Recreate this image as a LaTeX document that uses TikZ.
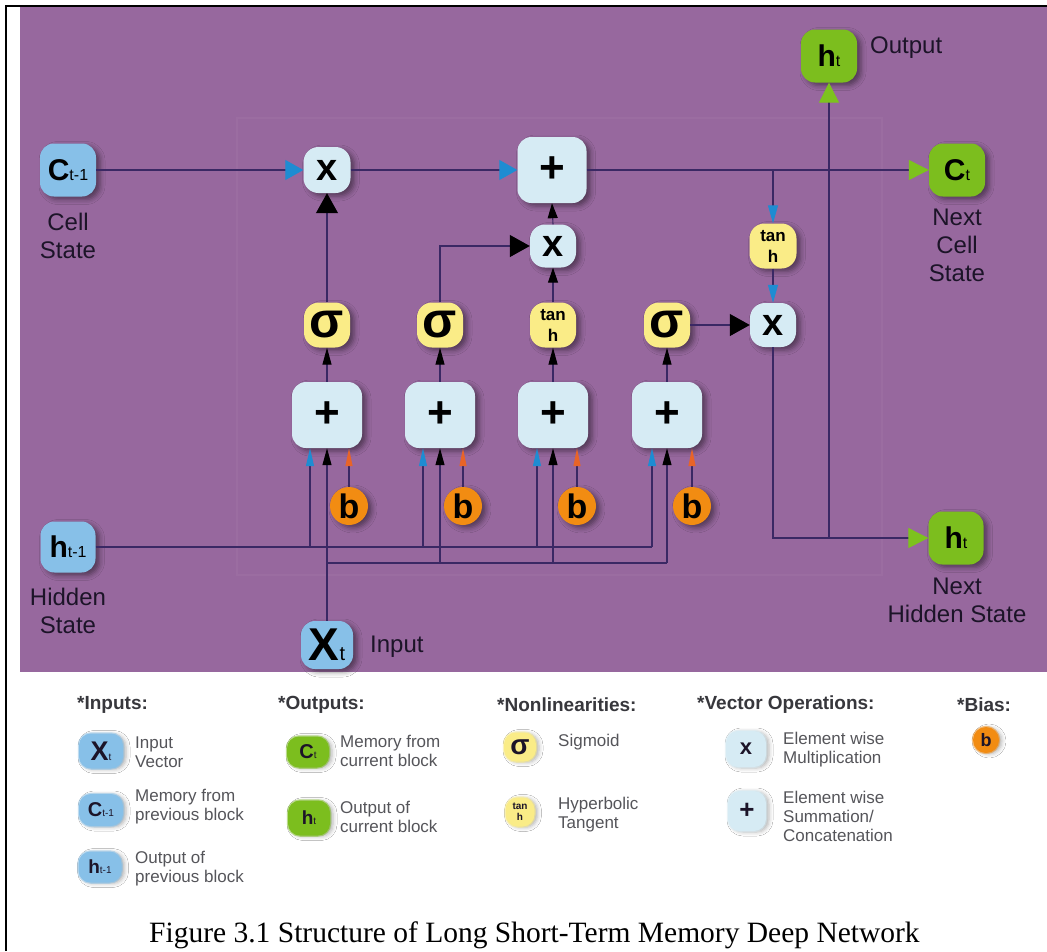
\documentclass[tikz,border=0pt]{standalone}
\usepackage{fontspec}
\setmainfont{Liberation Serif}
\setsansfont{Liberation Sans}
\usetikzlibrary{arrows.meta,shadows.blur,calc}

\definecolor{bgpurple}{RGB}{151,104,158}
\definecolor{wirecol}{RGB}{58,40,100}
\definecolor{opblue}{RGB}{214,235,244}
\definecolor{inblue}{RGB}{135,192,232}
\definecolor{outgreen}{RGB}{124,190,30}
\definecolor{gateyellow}{RGB}{250,236,135}
\definecolor{biasorange}{RGB}{242,140,18}
\definecolor{tipblue}{RGB}{30,140,210}
\definecolor{tiporange}{RGB}{232,100,40}
\definecolor{tipgreen}{RGB}{125,194,30}
\definecolor{ink}{RGB}{28,20,40}
\definecolor{headgray}{RGB}{55,55,60}
\definecolor{bodygray}{RGB}{85,85,90}

% symbols set inside the operation nodes
\newcommand{\opplus}{{\fontsize{44}{44}\selectfont +}}
\newcommand{\opmul}{{\fontsize{38}{38}\selectfont x}}
\newcommand{\opsig}{{\fontsize{50}{50}\selectfont σ}}
\newcommand{\opbias}{{\fontsize{34}{34}\selectfont b}}
\newcommand{\varlbl}[4]{{\fontsize{#1}{#1}\selectfont #2}{\mdseries\fontsize{#3}{#3}\selectfont #4}}

\tikzset{
  base/.style={inner sep=0pt, align=center, font=\sffamily\bfseries, text=black,
    blur shadow={shadow xshift=4pt, shadow yshift=-3pt, shadow blur radius=5pt, shadow opacity=45}},
  opbox/.style={base, fill=opblue, rounded corners=14pt, minimum width=70pt, minimum height=66pt},
  mulnode/.style={base, fill=opblue, rounded corners=15pt, minimum width=46pt, minimum height=44pt},
  gatenode/.style={base, fill=gateyellow, rounded corners=15pt, minimum width=46pt, minimum height=45pt},
  tanhnode/.style={gatenode, font=\sffamily\bfseries\fontsize{17}{21}\selectfont},
  biasnode/.style={base, circle, fill=biasorange, minimum size=38pt},
  innode/.style={base, fill=inblue, rounded corners=14pt, minimum width=56pt, minimum height=53pt},
  outnode/.style={base, fill=outgreen, rounded corners=14pt, minimum width=56pt, minimum height=53pt},
  lbl/.style={font=\sffamily\fontsize{24}{28}\selectfont, text=ink, align=center, inner sep=0pt},
  conn/.style={draw=wirecol, line width=1.1pt},
  bigblue/.tip={Triangle[length=18pt,width=20pt,color=tipblue]},
  midblue/.tip={Triangle[length=18pt,width=10pt,color=tipblue]},
  smallblue/.tip={Triangle[length=18pt,width=8pt,color=tipblue]},
  biggreen/.tip={Triangle[length=20pt,width=20pt,color=tipgreen]},
  bigblack/.tip={Triangle[length=20pt,width=22pt,color=black]},
  midblack/.tip={Triangle[length=15pt,width=10pt,color=black]},
  smallblack/.tip={Triangle[length=17pt,width=9pt,color=black]},
  smallorange/.tip={Triangle[length=18pt,width=7pt,color=tiporange]},
  legicon/.style={inner sep=0pt, align=center, font=\sffamily\bfseries, text=ink,
    rounded corners=12pt, line width=2.5pt, draw opacity=0.5,
    blur shadow={shadow xshift=3pt, shadow yshift=-1pt, shadow blur radius=4pt, shadow opacity=30}},
  heading/.style={anchor=west, inner sep=0pt, font=\sffamily\bfseries\fontsize{19}{22}\selectfont, text=headgray},
  legtxt/.style={anchor=west, inner sep=0pt, align=left, font=\sffamily\fontsize{17}{19}\selectfont, text=bodygray},
}

\begin{document}
\begin{tikzpicture}[x=1pt, y=-1pt]
\useasboundingbox (0,0) rectangle (1047,951);
\fill[white] (0,0) rectangle (1047,951);
% coloured panel and page frame
\fill[bgpurple] (20,7) rectangle (1047,672);
\draw[black, line width=2pt] (6,951) -- (6,6) -- (1047,6);
\draw[white, opacity=0.04, line width=1.5pt] (237,118) rectangle (882,575);

% inputs
\node[innode] (cprev) at (68,170) {\varlbl{30}{C}{16}{t-1}};
\node[lbl] (cprevlbl) at (68,236) {Cell\\State};
\node[innode, minimum width=55pt, minimum height=51pt] (hprev) at (68,547) {\varlbl{30}{h}{16}{t-1}};
\node[lbl] (hprevlbl) at (68,611) {Hidden\\State};
\node[innode, minimum width=52pt, minimum height=48pt] (xt) at (327,645) {\varlbl{46}{X}{20}{t}};
\node[lbl, anchor=west] (xtlbl) at (370,647) {Input};

% outputs
\node[outnode] (hout) at (829,56) {\varlbl{30}{h}{16}{t}};
\node[lbl, anchor=west] (houtlbl) at (870,48) {Output};
\node[outnode] (cnext) at (957,170) {\varlbl{30}{C}{16}{t}};
\node[lbl] (cnextlbl) at (957,245) {Next\\Cell\\State};
\node[outnode, minimum width=55pt] (hnext) at (956,538) {\varlbl{30}{h}{16}{t}};
\node[lbl] (hnextlbl) at (957,600) {Next\\Hidden State};

% cell state operations
\node[mulnode, minimum width=47pt, minimum height=46pt] (mul1) at (327,170) {\opmul};
\node[opbox, minimum width=69pt] (cellsum) at (552,170) {\opplus};
\node[mulnode, minimum height=43pt] (mul2) at (553,246) {\opmul};
\node[tanhnode, minimum width=47pt] (tanh2) at (773,246) {tan\\h};
\node[mulnode] (mul3) at (773,325) {\opmul};

% gates
\node[gatenode] (sig1) at (327,325) {\opsig};
\node[gatenode] (sig2) at (440,325) {\opsig};
\node[tanhnode] (tanh1) at (553,325) {tan\\h};
\node[gatenode] (sig4) at (667,325) {\opsig};

% weighted sums
\node[opbox] (sum1) at (327,415) {\opplus};
\node[opbox] (sum2) at (440,415) {\opplus};
\node[opbox] (sum3) at (553,415) {\opplus};
\node[opbox] (sum4) at (667,415) {\opplus};

% biases
\node[biasnode] (b1) at (349,506) {\opbias};
\node[biasnode] (b2) at (463,506) {\opbias};
\node[biasnode] (b3) at (577,506) {\opbias};
\node[biasnode] (b4) at (692,506) {\opbias};

% bus coordinates
\coordinate (hb1) at (310,547);
\coordinate (hb2) at (423,547);
\coordinate (hb3) at (537,547);
\coordinate (hb4) at (652,547);
\coordinate (xb1) at (327,563);
\coordinate (xb2) at (440,563);
\coordinate (xb3) at (553,563);
\coordinate (xb4) at (667,563);
\coordinate (ctap) at (773,170);
\coordinate (hjoin) at (829,538);

% hidden state bus, biases and sums into gates
\draw[conn] (hprev.east) -- (hb4);
\foreach \k/\g in {1/sig1,2/sig2,3/tanh1,4/sig4} {
  \draw[conn, -{smallblue}] (hb\k) -- (hb\k |- sum\k.south);
  \draw[conn, -{smallorange}] (b\k.north) -- (b\k.north |- sum\k.south);
  \draw[conn, -{smallblack}] (sum\k.north) -- (\g.south);
}
% input bus
\draw[conn, -{smallblack}] (xt.north) -- (sum1.south);
\draw[conn] (xb1) -- (xb4);
\foreach \k in {2,3,4} {
  \draw[conn, -{smallblack}] (xb\k) -- (sum\k.south);
}

% gates into the cell
\draw[conn, -{bigblack}] (sig1.north) -- (mul1.south);
\draw[conn, -{bigblack}] (sig2.north) |- (mul2.west);
\draw[conn, -{midblack}] (tanh1.north) -- (mul2.south);
\draw[conn, -{midblack}] (mul2.north) -- (cellsum.south);

% cell state line
\draw[conn, -{bigblue}] (cprev.east) -- (mul1.west);
\draw[conn, -{bigblue}] (mul1.east) -- (cellsum.west);
\draw[conn, -{biggreen}] (cellsum.east) -- (cnext.west);

% output path
\draw[conn, -{midblue}] (ctap) -- (tanh2.north);
\draw[conn, -{midblue}] (tanh2.south) -- (mul3.north);
\draw[conn, -{bigblack}] (sig4.east) -- (mul3.west);
\draw[conn, -{biggreen}] (mul3.south) |- (hnext.west);
\draw[conn, -{biggreen}] (hjoin) -- (hout.south);

% legend
\node[heading] (hdin) at (77,705) {*Inputs:};
\node[legicon, fill=inblue, draw=inblue, minimum width=44pt, minimum height=35pt] (lgx) at (101,751) {\varlbl{27}{X}{10}{t}};
\node[legtxt] (lgxt) at (135,752) {Input\\Vector};
\node[legicon, fill=inblue, draw=inblue, minimum width=44pt, minimum height=32pt] (lgc) at (101,810) {\varlbl{20}{C}{10}{t-1}};
\node[legtxt] (lgct) at (135,807) {Memory from\\previous block};
\node[legicon, fill=inblue, draw=inblue, minimum width=43pt, minimum height=31pt] (lgh) at (100,867) {\varlbl{19}{h}{10}{t-1}};
\node[legtxt] (lght) at (135,869) {Output of\\previous block};

\node[heading] (hdout) at (278,705) {*Outputs:};
\node[legicon, fill=outgreen, draw=outgreen, minimum width=42pt, minimum height=31pt] (lgcn) at (308,752) {\varlbl{20}{C}{10}{t}};
\node[legtxt] (lgcnt) at (340,751) {Memory from\\current block};
\node[legicon, fill=outgreen, draw=outgreen, minimum width=42pt, minimum height=35pt] (lghn) at (309,818) {\varlbl{19}{h}{10}{t}};
\node[legtxt] (lghnt) at (340,817) {Output of\\current block};

\node[heading] (hdnl) at (497,705) {*Nonlinearities:};
\node[legicon, fill=gateyellow, draw=gateyellow, minimum width=32pt, minimum height=29pt] (lgsig) at (520,747) {{\fontsize{28}{28}\selectfont σ}};
\node[legtxt] (lgsigt) at (558,742) {Sigmoid};
\node[legicon, fill=gateyellow, draw=gateyellow, minimum width=29pt, minimum height=29pt, font=\sffamily\bfseries\fontsize{10}{11}\selectfont] (lgtanh) at (520,812) {tan\\h};
\node[legtxt] (lgtanht) at (558,815) {Hyperbolic\\Tangent};

\node[heading] (hdvo) at (697,705) {*Vector Operations:};
\node[legicon, fill=opblue, draw=opblue, minimum width=40pt, minimum height=36pt] (lgmul) at (746,749) {{\fontsize{22}{22}\selectfont x}};
\node[legtxt] (lgmult) at (783,750) {Element wise\\Multiplication};
\node[legicon, fill=opblue, draw=opblue, minimum width=38pt, minimum height=40pt] (lgsum) at (747,811) {{\fontsize{26}{26}\selectfont +}};
\node[legtxt] (lgsumt) at (783,816) {Element wise\\Summation/\\Concatenation};

\node[heading] (hdb) at (957,705) {*Bias:};
\node[legicon, circle, fill=biasorange, draw=biasorange, minimum size=26pt] (lgb) at (986,740) {{\fontsize{18}{18}\selectfont b}};

% caption
\node[inner sep=0pt, anchor=base west, font=\rmfamily\fontsize{29.5}{31}\selectfont, text=black] (caption) at (149,942) {Figure 3.1 Structure of Long Short-Term Memory Deep Network};
\end{tikzpicture}
\end{document}
